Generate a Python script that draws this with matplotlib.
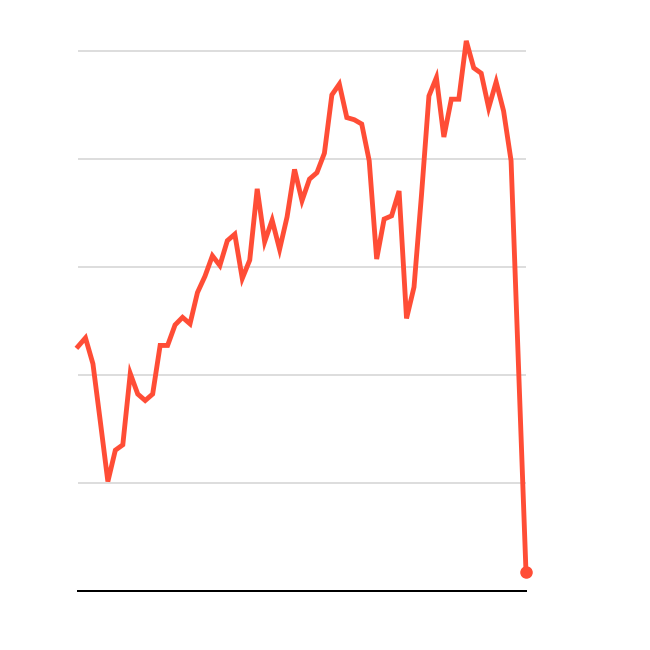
import matplotlib
matplotlib.use('Agg')
import matplotlib.pyplot as plt

# monthly values (grid step = 10)
values = [22.6, 23.4, 21.0, 15.6, 10.1, 13.0, 13.5, 20.1, 18.2, 17.6,
          18.2, 22.7, 22.7, 24.6, 25.3, 24.7, 27.6, 29.1, 31.0, 30.1,
          32.4, 33.0, 28.9, 30.6, 37.2, 32.3, 34.3, 31.6, 34.6, 39.0,
          36.1, 38.1, 38.7, 40.5, 45.9, 46.9, 43.8, 43.6, 43.2, 39.8,
          30.7, 34.4, 34.7, 37.0, 25.2, 28.1, 36.6, 45.8, 47.5, 42.0,
          45.5, 45.5, 50.9, 48.4, 47.9, 44.7, 47.1, 44.4, 39.8, 20.7,
          1.7]
months = list(range(len(values)))
grid_levels = [10, 20, 30, 40, 50]

RED = '#ff4d36'

fig = plt.figure(figsize=(6.5, 6.5), dpi=100)
ymax = 52
top_px = 590 - ymax * 10.8
ax = fig.add_axes([78 / 650, 59.4 / 650, 448 / 650, (590 - top_px) / 650])

for g in grid_levels:
    ax.axhline(g, color='#dddddd', linewidth=1.44, zorder=1)
# baseline sits on the axes edge, so don't let it get clipped in half
ax.axhline(0, color='black', linewidth=1.44, zorder=2, clip_on=False)

ax.plot(months, values, color=RED, linewidth=3.5, solid_joinstyle='miter',
        zorder=3, clip_on=False)
ax.plot(months[-1], values[-1], 'o', color=RED, markersize=8, zorder=4,
        clip_on=False)

ax.set_xlim(0, len(values) - 1)
ax.set_ylim(0, ymax)
ax.axis('off')

fig.savefig('out.png', dpi=100)
